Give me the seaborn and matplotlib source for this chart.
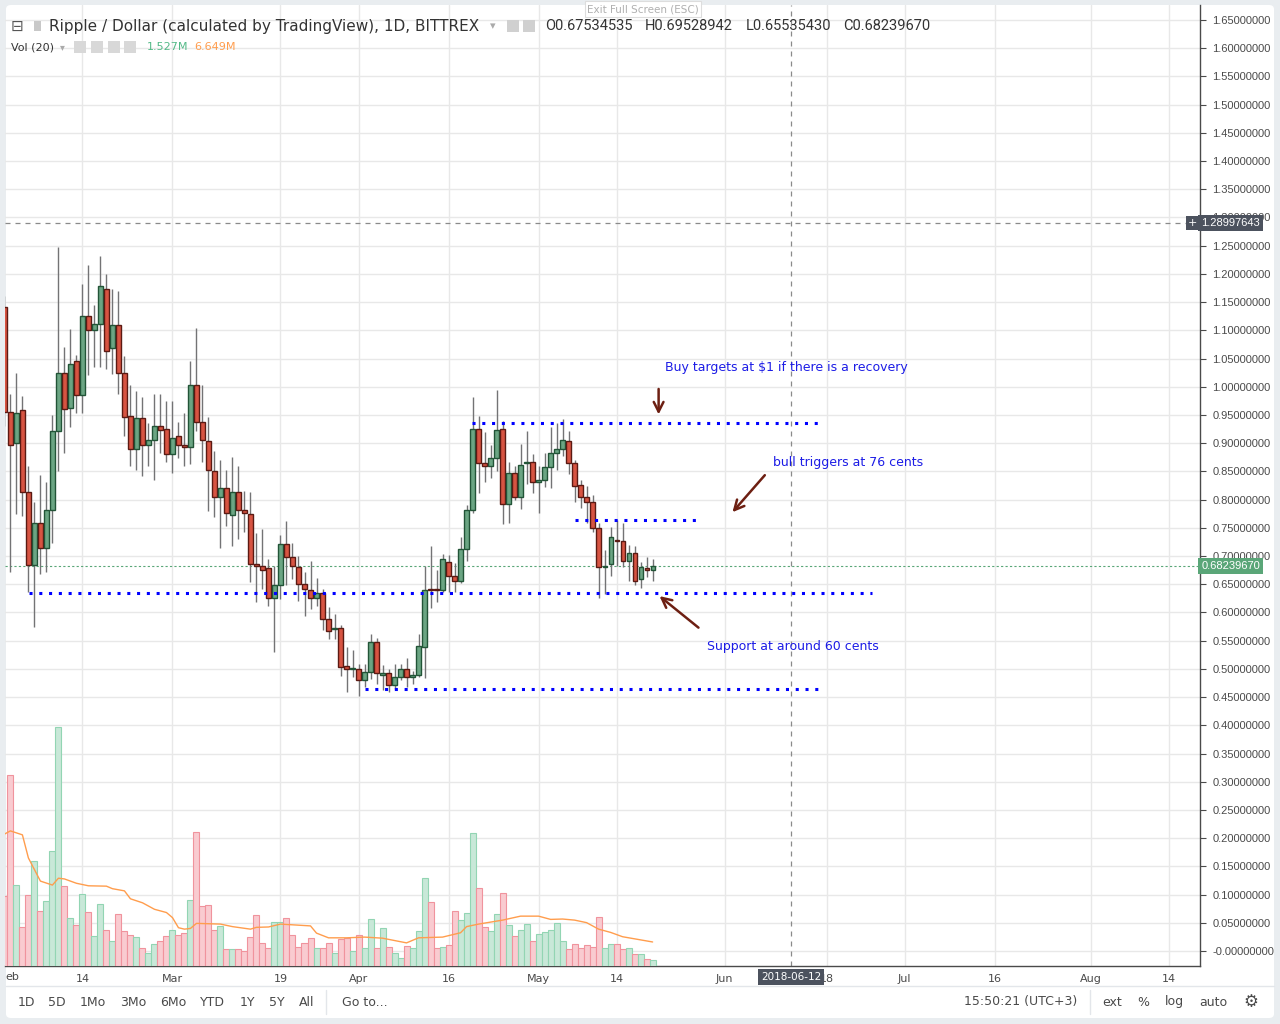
import numpy as np
import pandas as pd
import matplotlib
matplotlib.use('Agg')
import matplotlib.pyplot as plt
import seaborn as sns
from matplotlib.patches import FancyBboxPatch, Rectangle
from matplotlib.lines import Line2D
import matplotlib.transforms as mtransforms

# XRP/USD daily candles, Bittrex, 1 Feb - 20 May 2018
start = pd.Timestamp('2018-02-01')
dates = pd.date_range(start, '2018-05-20', freq='D')

opens = [
    1.142, 0.956, 0.901, 0.958, 0.814, 0.684, 0.758, 0.715, 0.782, 0.921,
    1.025, 0.962, 1.045, 0.986, 1.125, 1.100, 1.112, 1.174, 1.068, 1.109,
    1.025, 0.949, 0.889, 0.944, 0.896, 0.905, 0.931, 0.926,
    0.880, 0.912, 0.896, 0.894, 1.004, 0.938, 0.903, 0.850, 0.804, 0.821,
    0.772, 0.814, 0.782, 0.775, 0.685, 0.683, 0.678, 0.625, 0.649, 0.722,
    0.699, 0.680, 0.651, 0.639, 0.626, 0.635, 0.589, 0.570, 0.573, 0.505, 0.499,
    0.500, 0.481, 0.495, 0.548, 0.490, 0.492, 0.472, 0.485, 0.499, 0.485,
    0.490, 0.539, 0.642, 0.642, 0.639, 0.690, 0.665, 0.656, 0.713, 0.781,
    0.926, 0.864, 0.859, 0.873, 0.926, 0.793, 0.848, 0.805, 0.864, 0.866,
    0.832, 0.834, 0.857, 0.883, 0.889, 0.903, 0.864, 0.825, 0.805, 0.795,
    0.750, 0.680, 0.686, 0.729, 0.727, 0.692, 0.706, 0.660, 0.678, 0.67534535,
]
highs = [
    1.160, 0.988, 1.024, 0.983, 0.859, 0.795, 0.843, 0.831, 0.950, 1.248,
    1.070, 1.102, 1.056, 1.182, 1.216, 1.145, 1.232, 1.200, 1.173, 1.169,
    1.054, 1.004, 0.992, 0.981, 0.935, 0.988, 0.988, 0.974,
    0.975, 0.937, 0.953, 1.045, 1.104, 1.004, 0.947, 0.887, 0.871, 0.852,
    0.876, 0.860, 0.816, 0.813, 0.741, 0.748, 0.695, 0.683, 0.738, 0.762,
    0.723, 0.700, 0.672, 0.691, 0.661, 0.642, 0.610, 0.598, 0.578, 0.539, 0.534,
    0.509, 0.509, 0.561, 0.555, 0.506, 0.499, 0.508, 0.509, 0.520, 0.497,
    0.561, 0.683, 0.717, 0.676, 0.704, 0.702, 0.688, 0.733, 0.791, 0.982,
    0.948, 0.919, 0.896, 0.994, 0.940, 0.866, 0.859, 0.899, 0.921, 0.880,
    0.859, 0.882, 0.928, 0.935, 0.942, 0.921, 0.871, 0.834, 0.825, 0.809,
    0.758, 0.711, 0.752, 0.763, 0.758, 0.720, 0.718, 0.690, 0.699, 0.69528942,
]
lows = [
    0.930, 0.672, 0.775, 0.771, 0.637, 0.574, 0.669, 0.671, 0.723, 0.851,
    0.882, 0.929, 0.953, 0.953, 1.020, 1.035, 1.035, 1.032, 1.022, 0.988,
    0.913, 0.860, 0.853, 0.842, 0.860, 0.835, 0.883, 0.867,
    0.847, 0.874, 0.860, 0.863, 0.921, 0.867, 0.780, 0.769, 0.714, 0.754,
    0.718, 0.730, 0.743, 0.654, 0.619, 0.642, 0.612, 0.530, 0.624, 0.649,
    0.660, 0.621, 0.594, 0.606, 0.612, 0.569, 0.553, 0.553, 0.487, 0.459, 0.486,
    0.452, 0.468, 0.482, 0.473, 0.463, 0.459, 0.464, 0.480, 0.468, 0.473,
    0.486, 0.484, 0.608, 0.619, 0.637, 0.637, 0.637, 0.653, 0.692, 0.777,
    0.811, 0.832, 0.839, 0.850, 0.756, 0.759, 0.800, 0.784, 0.828, 0.811,
    0.777, 0.823, 0.821, 0.852, 0.878, 0.846, 0.795, 0.786, 0.758, 0.742,
    0.625, 0.633, 0.664, 0.683, 0.681, 0.655, 0.648, 0.644, 0.662, 0.65535430,
]
closes = [
    0.956, 0.897, 0.953, 0.814, 0.684, 0.758, 0.715, 0.781, 0.921, 1.025,
    0.960, 1.041, 0.985, 1.125, 1.100, 1.112, 1.178, 1.064, 1.109, 1.025,
    0.947, 0.889, 0.944, 0.896, 0.905, 0.931, 0.924, 0.880,
    0.910, 0.896, 0.894, 1.004, 0.937, 0.905, 0.852, 0.805, 0.821, 0.777,
    0.814, 0.782, 0.777, 0.685, 0.683, 0.676, 0.625, 0.649, 0.722, 0.699,
    0.683, 0.651, 0.642, 0.626, 0.635, 0.589, 0.568, 0.573, 0.503, 0.500, 0.501,
    0.481, 0.495, 0.548, 0.492, 0.492, 0.472, 0.485, 0.499, 0.486, 0.490,
    0.541, 0.640, 0.640, 0.639, 0.694, 0.664, 0.656, 0.713, 0.781, 0.926,
    0.864, 0.859, 0.873, 0.924, 0.793, 0.848, 0.805, 0.862, 0.866, 0.832,
    0.834, 0.857, 0.883, 0.889, 0.905, 0.864, 0.825, 0.805, 0.795, 0.750,
    0.680, 0.683, 0.733, 0.727, 0.692, 0.706, 0.656, 0.680, 0.676, 0.68239670,
]
# daily volume, millions
volumes = [
    19.4, 52.8, 22.4, 10.7, 19.7, 29.0, 15.2, 17.9, 31.8, 66.2,
    22.1, 13.2, 11.3, 19.9, 14.9, 8.2, 17.1, 9.9, 6.8, 14.3,
    9.6, 8.5, 7.9, 4.9, 3.5, 6.0, 6.8, 8.2,
    9.9, 8.5, 9.1, 18.2, 37.0, 16.5, 16.8, 9.9, 11.0, 4.6,
    4.6, 4.6, 4.1, 7.9, 14.0, 6.3, 4.9, 12.1, 12.1, 13.2,
    8.5, 5.2, 6.3, 7.7, 4.9, 4.9, 6.3, 3.6, 7.5, 7.8, 4.2,
    8.6, 5.0, 13.0, 5.0, 10.5, 5.3, 3.6, 2.2, 5.5, 5.0,
    9.7, 24.4, 17.7, 5.0, 5.3, 5.8, 15.2, 12.7, 14.7, 36.8,
    21.6, 10.8, 9.7, 14.4, 20.2, 11.4, 8.3, 10.0, 11.6, 6.9,
    8.9, 9.4, 10.0, 11.9, 6.9, 4.7, 6.1, 5.0, 5.8, 5.3,
    13.6, 5.0, 6.1, 6.1, 4.7, 5.0, 3.3, 3.3, 1.9, 1.527,
]
# Vol MA(20) as drawn (day offset from 1 Feb, millions)
ma_day = [0, 1, 3, 4, 6, 8, 9, 10, 12, 14, 17, 18, 20, 21, 23, 25, 27, 28, 29, 30,
          31, 32, 34, 36, 38, 41, 42, 44, 46, 49, 51, 52, 54, 57, 60, 63, 67, 69, 73,
          76, 77, 79, 83, 86, 89, 91, 93, 95, 97, 99, 101, 103, 108]
ma_vol = [36.5, 37.4, 36.3, 29.9, 23.5, 22.4, 24.3, 24.1, 22.9, 22.2, 22.1, 21.4, 20.8,
          18.6, 17.5, 15.7, 14.8, 13.4, 10.6, 10.2, 10.4, 11.8, 11.7, 11.6, 10.9, 10.2,
          10.7, 10.8, 11.6, 11.3, 11.1, 9.1, 7.8, 7.8, 8.0, 7.7, 6.4, 7.8, 8.0, 9.2,
          10.9, 11.6, 12.7, 13.8, 13.8, 12.9, 13.0, 12.7, 12.0, 10.2, 9.3, 8.1, 6.649]

tick_dates = ['2018-02-14', '2018-03-01', '2018-03-19', '2018-04-01', '2018-04-16',
              '2018-05-01', '2018-05-14', '2018-06-01', '2018-06-18', '2018-07-01',
              '2018-07-16', '2018-08-01', '2018-08-14']
tick_labels = ['14', 'Mar', '19', 'Apr', '16', 'May', '14', 'Jun', '18', 'Jul', '16', 'Aug', '14']

# drawn levels: (price, from date, to date)
levels = [
    (0.634, '2018-02-05 04:00', '2018-06-25 12:00'),
    (0.464, '2018-04-02', '2018-06-17 08:00'),
    (0.9355, '2018-04-19 20:00', '2018-06-17 08:00'),
    (0.764, '2018-05-07', '2018-05-27 08:00'),
]

last_close = closes[-1]
cross_price = 1.28997643
cross_date = '2018-06-12'

df = pd.DataFrame({'date': dates, 'open': opens, 'high': highs, 'low': lows,
                   'close': closes, 'volume': volumes})
df['day'] = (df['date'] - start).dt.days
df['up'] = df['close'] >= df['open']


def dnum(s):
    return (pd.Timestamp(s) - start) / pd.Timedelta(days=1)


W, H = 1280, 1024


def fx(x):
    return x / W


def fy(y):
    return 1 - y / H


sns.set_style('white')
plt.rcParams['font.family'] = ['DejaVu Sans']

fig = plt.figure(figsize=(12.8, 10.24), dpi=100, facecolor='#e9edf0')
fig.patches.append(FancyBboxPatch((fx(6), fy(1018)), fx(1274) - fx(6), fy(5) - fy(1018),
                                  boxstyle='round,pad=0,rounding_size=0.004',
                                  transform=fig.transFigure, fc='white', ec='none', zorder=-10))

ax = fig.add_axes([fx(5), fy(966), fx(1200) - fx(5), fy(5) - fy(966)])
ax.set_facecolor('none')
ax.set_xlim(0.1, 199.2)
ax.set_ylim(-0.0266, 1.6766)

# volume pane (own hidden scale)
axv = ax.twinx()
axv.set_ylim(0, 266)
axv.set_yticks([])
for s in axv.spines.values():
    s.set_visible(False)
vol_face = np.where(df['up'], '#c8e8d8', '#f9cbd0')
vol_edge = np.where(df['up'], '#92d5b3', '#f0939d')
axv.bar(df['day'], df['volume'], width=1.0, color=vol_face, edgecolor=vol_edge, linewidth=0.8)
sns.lineplot(x=ma_day, y=ma_vol, ax=axv, color='#ff9d4d', lw=1)
axv.set_xlim(0.1, 199.2)

# grid and price scale on the right
yt = np.round(np.arange(0, 1.6501, 0.05), 2)
ax.set_yticks(yt, labels=['-0.00000000' if v == 0 else f'{v:.8f}' for v in yt])
ax.yaxis.tick_right()
ax.yaxis.set_label_position('right')
ax.tick_params(axis='y', labelsize=8, labelcolor='#4a4a4a', color='#4a4a4a',
               length=4, width=0.8, pad=5, left=False, labelleft=False,
               right=True, labelright=True)
for lab in ax.get_yticklabels():
    lab.set_family('Liberation Sans')
xt = [dnum(d) for d in tick_dates]
ax.set_xticks(xt, labels=tick_labels)
ax.tick_params(axis='x', labelsize=8, labelcolor='#4a4a4a', color='#4a4a4a',
               length=4, width=0.8, pad=2)
ax.grid(True, color='#e8e8e8', lw=1)
ax.set_axisbelow(True)
for s in ['top', 'left']:
    ax.spines[s].set_visible(False)
for s in ['right', 'bottom']:
    ax.spines[s].set_color('#4a4a4a')
    ax.spines[s].set_linewidth(1)

# candles
ax.vlines(df['day'], df['low'], df['high'], color='#737375', lw=1, zorder=3)
body_lo = np.minimum(df['open'], df['close'])
body_h = np.maximum(np.abs(df['close'] - df['open']), 0.002)
ax.bar(df['day'], body_h, bottom=body_lo, width=0.7,
       color=np.where(df['up'], '#6ba583', '#d75442'),
       edgecolor=np.where(df['up'], '#225437', '#5b1a13'), linewidth=1, zorder=4)

# drawn levels
for price, d0, d1 in levels:
    ax.plot([dnum(d0), dnum(d1)], [price, price], color='#0000ff', lw=2.2,
            linestyle=(0, (1, 2.2)), zorder=5)

arrow_kw = dict(arrowstyle='->,head_length=0.7,head_width=0.35', color='#6d1f12', lw=1.8)
ax.annotate('', xy=(dnum('2018-05-21'), 0.946), xytext=(dnum('2018-05-21'), 1.001), arrowprops=arrow_kw)
ax.annotate('', xy=(dnum('2018-06-02'), 0.774), xytext=(dnum('2018-06-08'), 0.847), arrowprops=arrow_kw)
ax.annotate('', xy=(dnum('2018-05-20 19:00'), 0.632), xytext=(dnum('2018-05-28'), 0.570), arrowprops=arrow_kw)

txt_kw = dict(color='#1c1ce6', fontsize=9, va='center', ha='left', zorder=6)
ax.text(dnum('2018-05-22'), 1.035, 'Buy targets at \\$1 if there is a recovery', **txt_kw)
ax.text(dnum('2018-06-09'), 0.866, 'bull triggers at 76 cents', **txt_kw)
ax.text(dnum('2018-05-29'), 0.540, 'Support at around 60 cents', **txt_kw)

# last price line + label
ax.axhline(last_close, color='#5aa678', lw=0.8, linestyle=(0, (2, 2)), zorder=2)
ytr = mtransforms.blended_transform_factory(ax.transAxes, ax.transData)
ax.text(1.001, last_close, f'{last_close:.8f}', transform=ytr, fontsize=8, color='white',
        family='Liberation Sans', va='center', ha='left', zorder=10, clip_on=False,
        bbox=dict(boxstyle='square,pad=0.3', fc='#5aa678', ec='none'))

# crosshair
ax.axhline(cross_price, color='#8a8a8a', lw=0.9, linestyle=(0, (4, 4)), zorder=2)
ax.axvline(dnum(cross_date), color='#8a8a8a', lw=0.9, linestyle=(0, (4, 4)), zorder=2)
ax.text(1.001, cross_price, f'{cross_price:.8f}', transform=ytr, fontsize=8, color='white',
        family='Liberation Sans', va='center', ha='left', zorder=10, clip_on=False,
        bbox=dict(boxstyle='square,pad=0.3', fc='#4c525e', ec='none'))
ax.text(0.9935, cross_price, '+', transform=ytr, fontsize=8, color='white', va='center',
        ha='center', zorder=10, bbox=dict(boxstyle='square,pad=0.15', fc='#4c525e', ec='none'))
fig.text(fx(5), fy(977), 'eb', fontsize=8, color='#4a4a4a', ha='left', va='center')
fig.text(fx(791), fy(977), cross_date, fontsize=7.5, color='white', ha='center', va='center',
         bbox=dict(boxstyle='square,pad=0.25', fc='#4c525e', ec='none'))

# header
fig.text(fx(17), fy(26), '\u229f', fontsize=11, color='#555555', ha='center', va='center')
fig.patches.append(Rectangle((fx(34), fy(31)), 7 / W, 10 / H, transform=fig.transFigure,
                             fc='#c8c8c8', ec='none'))
fig.text(fx(49), fy(26), 'Ripple / Dollar (calculated by TradingView), 1D, BITTREX',
         fontsize=11, color='#333333', ha='left', va='center')
fig.text(fx(493), fy(26), '\u25be', fontsize=8, color='#aaaaaa', ha='center', va='center')
for x0 in [507, 523]:
    fig.patches.append(Rectangle((fx(x0), fy(32)), 12 / W, 12 / H, transform=fig.transFigure,
                                 fc='#d0d0d0', ec='none'))
for x0, s in [(545, 'O0.67534535'), (645, 'H0.69528942'), (746, 'L0.65535430'), (843, 'C0.68239670')]:
    fig.text(fx(x0), fy(26), s, fontsize=10.5, color='#333333', ha='left', va='center', family='Roboto')
fig.text(fx(643), fy(9), 'Exit Full Screen (ESC)', fontsize=7.5, color='#b0b0b0', ha='center',
         va='center', bbox=dict(boxstyle='square,pad=0.25', fc='white', ec='#dddddd', lw=0.8))

fig.text(fx(11), fy(47), 'Vol (20)', fontsize=8, color='#333333', ha='left', va='center')
fig.text(fx(62), fy(47), '\u25be', fontsize=7, color='#aaaaaa', ha='center', va='center')
for x0 in [74, 91, 108, 124]:
    fig.patches.append(Rectangle((fx(x0), fy(53)), 12 / W, 12 / H, transform=fig.transFigure,
                                 fc='#d8d8d8', ec='none'))
fig.text(fx(147), fy(47), '1.527M', fontsize=8, color='#53b987', ha='left', va='center')
fig.text(fx(194), fy(47), '6.649M', fontsize=8, color='#ff9d4d', ha='left', va='center')

# bottom toolbar
fig.add_artist(Line2D([fx(6), fx(1274)], [fy(986), fy(986)], color='#e3e6ea', lw=1))
for xs in [326, 1090]:
    fig.add_artist(Line2D([fx(xs), fx(xs)], [fy(990), fy(1014)], color='#e3e6ea', lw=1))
for x0, s in [(26, '1D'), (57, '5D'), (93, '1Mo'), (133, '3Mo'), (173, '6Mo'), (212, 'YTD'),
              (247, '1Y'), (277, '5Y'), (307, 'All'), (365, 'Go to...'), (1021, '15:50:21 (UTC+3)'),
              (1112, 'ext'), (1143, '%'), (1174, 'log'), (1213, 'auto')]:
    fig.text(fx(x0), fy(1002), s, fontsize=9, color='#4a4a4a', ha='center', va='center')
fig.text(fx(1251), fy(1002), '\u2699', fontsize=12, color='#4a4a4a', ha='center', va='center')

fig.savefig('out.png', dpi=100, facecolor=fig.get_facecolor())
